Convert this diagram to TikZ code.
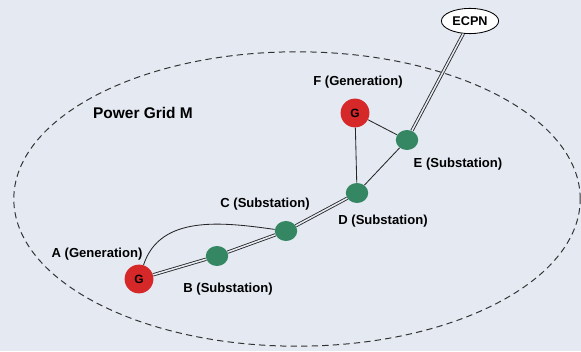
\documentclass[tikz,border=0pt]{standalone}
\usepackage{fontspec}
\setmainfont{Liberation Sans}
\usepackage{tikz}
\usetikzlibrary{arrows.meta,positioning,calc,shapes.geometric}
\usepackage{xcolor}
\definecolor{bgcol}{RGB}{228,233,242}
\definecolor{genred}{RGB}{214,40,40}
\definecolor{subgreen}{RGB}{52,135,98}

\begin{document}
\begin{tikzpicture}[
    gen/.style={circle, fill=genred, minimum size=0.72cm, inner sep=0pt,
                font=\fontsize{8.5}{9}\selectfont\bfseries},
    sub/.style={ellipse, fill=subgreen, minimum width=0.56cm,
                minimum height=0.5cm, inner sep=0pt},
    lbl/.style={font=\fontsize{9.3}{11}\selectfont\bfseries},
    link/.style={line width=0.6pt, black!85},
    dlink/.style={line width=0.6pt, black!85, double=bgcol, double distance=1.1pt}
  ]
  \fill[bgcol] (0,0) rectangle (14.525,8.775);
  \useasboundingbox (0,0) rectangle (14.525,8.775);

  % grid boundary
  \draw[line width=0.7pt, black!80, dash pattern=on 4.5pt off 3pt]
    (7.425,3.8) ellipse [x radius=7.08cm, y radius=3.68cm];
  \node[font=\fontsize{11}{13}\selectfont\bfseries] (grid) at (3.575,5.95) {Power Grid M};

  % buses
  \node[gen] (A) at (3.475,1.8) {G};
  \node[sub] (B) at (5.425,2.375) {};
  \node[sub] (C) at (7.15,3.0) {};
  \node[sub] (D) at (8.925,3.95) {};
  \node[sub] (E) at (10.175,5.275) {};
  \node[gen] (F) at (8.875,5.95) {G};
  \node[draw, ellipse, fill=white, line width=0.6pt, minimum width=1.43cm,
        minimum height=0.63cm, inner sep=0pt,
        font=\fontsize{9}{10}\selectfont\bfseries] (ecpn) at (11.75,8.25) {ECPN};

  \node[lbl] (labA) at (2.425,2.425) {A (Generation)};
  \node[lbl] (labB) at (5.7,1.55) {B (Substation)};
  \node[lbl] (labC) at (6.625,3.675) {C (Substation)};
  \node[lbl] (labD) at (9.575,3.25) {D (Substation)};
  \node[lbl] (labE) at (11.45,4.675) {E (Substation)};
  \node[lbl] (labF) at (8.95,6.725) {F (Generation)};

  % lines
  \draw[dlink] (A) -- (B);
  \draw[dlink] (B) -- (C);
  \draw[dlink] (C) -- (D);
  \draw[dlink] (E) -- (ecpn);
  \draw[link] (A) to[out=72, in=172] (C);
  \draw[link] (F) -- (E);
  \draw[link] (F) -- (D);
  \draw[link] (D) -- (E);
\end{tikzpicture}
\end{document}
